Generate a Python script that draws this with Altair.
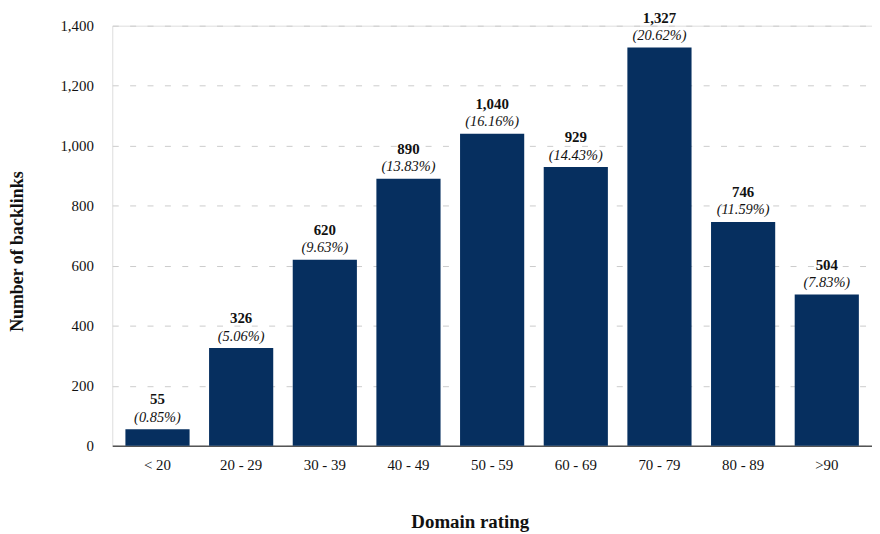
import altair as alt
import pandas as pd

categories = ["< 20", "20 - 29", "30 - 39", "40 - 49", "50 - 59", "60 - 69", "70 - 79", "80 - 89", ">90"]
backlinks = [55, 326, 620, 890, 1040, 929, 1327, 746, 504]
shares = ["(0.85%)", "(5.06%)", "(9.63%)", "(13.83%)", "(16.16%)", "(14.43%)", "(20.62%)", "(11.59%)", "(7.83%)"]
value_labels = ["55", "326", "620", "890", "1,040", "929", "1,327", "746", "504"]
y_ticks = [0, 200, 400, 600, 800, 1000, 1200, 1400]

df = pd.DataFrame({
    "cat": categories,
    "val": backlinks,
    "share": shares,
    "vlabel": value_labels,
})

FONT = "Liberation Serif"
BAR = "#062f5f"

x = alt.X(
    "cat:N",
    sort=categories,
    scale=alt.Scale(paddingInner=0.233, paddingOuter=0.157),
    axis=alt.Axis(
        title="Domain rating",
        labelAngle=0,
        ticks=False,
        domainColor="#555555",
        domainWidth=1.5,
        labelFont=FONT,
        labelFontSize=15,
        labelColor="#111111",
        labelPadding=12,
        titleFont=FONT,
        titleFontSize=19,
        titleFontWeight="bold",
        titleColor="#111111",
        titleX=360,
        titleY=76,
        titleBaseline="middle",
        titleAlign="center",
    ),
)

y = alt.Y(
    "val:Q",
    scale=alt.Scale(domain=[0, 1400], nice=False),
    axis=alt.Axis(
        title="Number of backlinks",
        values=y_ticks,
        format=",d",
        ticks=False,
        domain=False,
        grid=True,
        gridColor="#cccccc",
        gridDash=[6, 11.5],
        gridWidth=1,
        labelFont=FONT,
        labelFontSize=15,
        labelColor="#111111",
        labelPadding=19,
        titleFont=FONT,
        titleFontSize=18,
        titleFontWeight="bold",
        titleColor="#111111",
        titleX=-95,
        titleY=227,
        titleBaseline="middle",
        titleAlign="center",
        titleAngle=-90,
    ),
)

bars = alt.Chart(df).mark_bar(color=BAR).encode(x=x, y=y)

vtext = alt.Chart(df).mark_text(
    font=FONT, fontSize=15, fontWeight="bold", color="#111111", dy=-30, baseline="middle"
).encode(x=alt.X("cat:N", sort=categories), y="val:Q", text="vlabel:N")

ptext = alt.Chart(df).mark_text(
    font=FONT, fontSize=14.5, fontStyle="italic", color="#111111", dy=-11.5, baseline="middle"
).encode(x=alt.X("cat:N", sort=categories), y="val:Q", text="share:N")

chart = (
    alt.layer(bars, vtext, ptext)
    .properties(
        width=765,
        height=423,
        autosize=alt.AutoSizeParams(type="none"),
        padding={"left": 105, "top": 16, "right": 0, "bottom": 87},
    )
    .configure_view(stroke=None)
    .configure(background="white")
)

chart.save("out.html", embed_options={"renderer": "svg", "actions": False})
